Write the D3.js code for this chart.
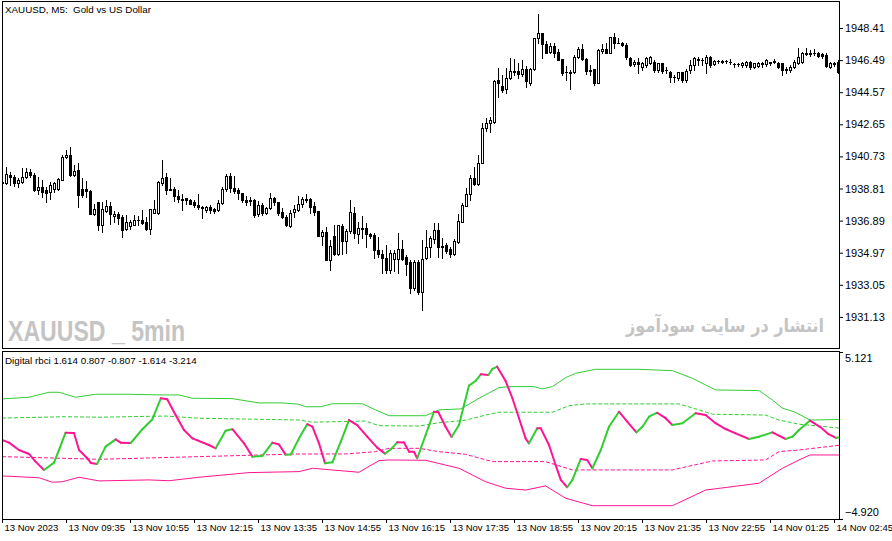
<!DOCTYPE html>
<html>
<head>
<meta charset="utf-8">
<script src="https://cdn.jsdelivr.net/npm/d3@7"></script>
<style>
    body { margin: 0; background: #fff; }
    svg { display: block; }
    text { font-family: "Liberation Sans", Arial, sans-serif; fill: #000; }
</style>
</head>
<body>
<div id="chart"></div>
<script>
// XAUUSD M5 bars: [open, high, low, close]
const ohlc = [
    [1939.15,1939.31,1939.01,1939.19],[1939.11,1940.11,1939.07,1939.65],[1939.61,1939.81,1939.01,1939.47],[1939.47,1939.61,1938.97,1939.11],
    [1939.15,1939.41,1938.91,1939.31],[1939.21,1940.01,1939.11,1939.51],[1939.51,1940.01,1939.41,1939.81],[1939.81,1939.95,1939.51,1939.61],
    [1939.61,1939.71,1938.67,1938.71],[1938.71,1939.51,1938.51,1938.91],[1938.91,1939.31,1938.31,1938.61],[1938.75,1938.91,1938.01,1938.55],
    [1938.61,1939.21,1938.21,1939.01],[1938.81,1939.21,1938.61,1939.11],[1938.81,1939.41,1938.75,1939.35],[1939.31,1940.81,1939.31,1940.71],
    [1940.67,1941.11,1940.61,1940.81],[1940.81,1941.31,1939.55,1939.61],[1939.61,1940.21,1939.55,1939.87],[1939.91,1940.31,1937.71,1938.41],
    [1938.81,1939.41,1938.31,1938.41],[1938.81,1939.27,1938.31,1938.67],[1938.67,1938.71,1937.27,1937.27],[1937.27,1937.91,1937.21,1937.61],
    [1938.01,1938.01,1936.35,1936.61],[1936.61,1938.01,1936.21,1937.61],[1937.45,1938.11,1937.41,1937.75],[1937.75,1938.01,1936.71,1937.27],
    [1937.15,1937.47,1936.81,1937.27],[1937.27,1937.41,1936.71,1937.07],[1937.11,1937.21,1935.91,1936.35],[1936.41,1937.21,1936.31,1936.81],
    [1936.59,1936.91,1936.41,1936.81],[1936.61,1937.21,1936.61,1936.95],[1936.91,1937.15,1936.61,1936.93],[1936.95,1937.51,1936.71,1936.75],
    [1936.81,1937.11,1936.35,1936.41],[1936.41,1937.61,1936.07,1937.61],[1937.35,1938.15,1937.35,1937.61],[1937.35,1939.27,1937.27,1939.21],
    [1939.11,1940.51,1939.01,1939.41],[1939.47,1939.71,1938.51,1938.75],[1938.81,1939.41,1938.75,1938.75],[1938.81,1938.91,1938.07,1938.35],
    [1938.35,1938.71,1938.01,1938.21],[1938.21,1938.51,1937.51,1938.15],[1938.27,1938.27,1937.91,1938.11],[1938.15,1938.21,1937.87,1937.91],
    [1938.01,1938.11,1937.71,1937.81],[1937.81,1938.51,1937.61,1937.71],[1937.71,1937.75,1937.07,1937.67],[1937.51,1937.75,1937.41,1937.71],
    [1937.72,1937.82,1937.36,1937.52],[1937.56,1937.62,1937.36,1937.48],[1937.52,1938.12,1937.48,1937.96],[1937.92,1938.88,1937.86,1938.76],
    [1938.76,1939.68,1938.68,1939.56],[1939.56,1939.72,1938.62,1938.82],[1938.82,1939.56,1938.56,1938.68],[1938.72,1938.82,1938.16,1938.52],
    [1938.52,1938.56,1938.02,1938.12],[1938.12,1938.36,1937.82,1938.02],[1938.08,1938.32,1937.82,1938.12],[1938.12,1938.16,1937.12,1937.22],
    [1937.26,1938.08,1937.18,1937.82],[1937.82,1937.92,1937.22,1937.32],[1937.32,1937.72,1937.28,1937.62],[1937.62,1938.52,1937.56,1938.22],
    [1938.22,1938.32,1937.82,1938.02],[1937.98,1938.02,1937.22,1937.36],[1937.42,1937.62,1937.02,1937.08],[1937.12,1937.22,1936.56,1936.62],
    [1936.58,1937.52,1936.52,1937.36],[1937.42,1937.82,1937.08,1937.56],[1937.52,1938.36,1937.48,1937.86],[1937.86,1938.32,1937.72,1938.16],
    [1938.12,1938.48,1938.02,1938.16],[1938.16,1938.22,1937.36,1937.72],[1937.76,1938.02,1937.22,1937.42],[1937.46,1937.46,1935.96,1935.96],
    [1935.98,1936.32,1935.42,1936.22],[1936.22,1936.52,1934.52,1934.52],[1934.52,1935.72,1933.96,1935.36],[1935.96,1936.62,1934.82,1934.92],
    [1934.92,1936.62,1934.82,1936.62],[1936.56,1936.68,1934.92,1935.68],[1935.68,1936.36,1934.96,1936.26],[1936.26,1938.12,1936.12,1937.42],
    [1937.32,1937.72,1935.82,1936.12],[1936.08,1936.82,1935.56,1936.42],[1936.42,1937.16,1935.82,1936.40],[1936.42,1936.72,1935.32,1936.08],
    [1936.08,1936.16,1935.82,1935.98],[1936.02,1936.12,1934.68,1935.16],[1935.16,1935.92,1934.72,1934.92],[1934.88,1935.12,1933.76,1934.68],
    [1934.68,1935.42,1933.76,1933.92],[1933.92,1935.12,1933.76,1934.98],[1934.62,1935.12,1933.88,1934.98],[1934.62,1936.12,1933.76,1935.22],
    [1935.22,1935.72,1934.56,1934.62],[1934.72,1934.82,1933.62,1934.32],[1934.42,1934.52,1932.56,1932.88],[1932.88,1934.52,1932.72,1934.42],
    [1934.42,1934.52,1932.52,1932.62],[1932.62,1935.72,1931.56,1934.58],[1934.64,1936.34,1934.58,1935.34],[1935.30,1935.98,1934.74,1935.84],
    [1935.78,1936.73,1935.54,1936.34],[1936.30,1936.73,1934.74,1935.34],[1935.38,1935.84,1934.64,1935.34],[1935.44,1935.54,1934.94,1935.10],
    [1935.18,1935.34,1934.74,1934.90],[1934.90,1935.78,1934.84,1935.64],[1935.60,1937.29,1935.54,1936.89],[1936.83,1937.93,1936.78,1937.83],
    [1937.77,1938.83,1937.77,1938.49],[1938.47,1939.63,1938.13,1939.43],[1939.43,1940.12,1939.03,1939.09],[1939.09,1940.82,1939.03,1940.36],
    [1940.36,1942.71,1940.32,1942.42],[1942.42,1943.01,1942.22,1942.71],[1942.71,1943.07,1942.16,1942.91],[1942.81,1945.27,1942.75,1945.21],
    [1945.27,1946.00,1944.31,1945.11],[1944.95,1945.60,1944.61,1944.71],[1944.75,1946.00,1944.55,1945.40],[1945.40,1946.60,1945.35,1945.86],
    [1945.80,1946.54,1945.60,1945.86],[1945.84,1946.30,1945.40,1945.66],[1945.66,1946.50,1945.54,1945.94],[1945.94,1946.14,1944.87,1945.21],
    [1945.15,1946.00,1945.00,1945.94],[1945.94,1947.80,1945.90,1947.80],[1947.80,1949.25,1947.54,1948.10],[1948.10,1948.10,1946.60,1947.44],
    [1947.46,1947.66,1946.90,1946.94],[1947.00,1947.50,1946.94,1947.34],[1947.34,1947.50,1946.70,1946.94],[1946.98,1947.14,1946.50,1946.50],
    [1946.54,1946.54,1945.60,1945.74],[1945.80,1946.14,1945.27,1945.76],[1945.70,1945.90,1944.75,1945.80],[1945.76,1946.80,1945.70,1946.66],
    [1946.66,1947.26,1946.60,1947.16],[1947.16,1947.46,1946.50,1946.54],[1946.54,1946.60,1945.66,1945.86],[1945.90,1946.20,1945.60,1945.86],
    [1945.94,1945.94,1945.00,1945.15],[1945.15,1947.14,1945.15,1947.10],[1947.06,1947.46,1946.90,1947.14],[1947.14,1947.50,1946.90,1946.94],
    [1946.94,1947.90,1946.90,1947.86],[1947.90,1948.10,1947.20,1947.50],[1947.54,1947.80,1947.50,1947.50],[1947.54,1947.58,1947.34,1947.38],
    [1947.40,1947.50,1946.54,1946.66],[1946.59,1946.65,1946.13,1946.19],[1946.25,1946.49,1946.13,1946.39],[1946.39,1946.59,1945.73,1946.25],
    [1946.09,1946.39,1945.89,1946.29],[1946.19,1946.65,1946.09,1946.59],[1946.29,1946.73,1946.25,1946.65],[1946.39,1946.49,1945.79,1945.89],
    [1945.89,1946.33,1945.79,1946.29],[1946.29,1946.33,1945.73,1945.85],[1945.89,1946.09,1945.69,1945.87],[1945.79,1945.85,1945.19,1945.45],
    [1945.45,1945.59,1945.19,1945.47],[1945.39,1945.79,1945.29,1945.75],[1945.75,1945.79,1945.19,1945.29],[1945.29,1945.93,1945.19,1945.85],
    [1945.89,1946.49,1945.69,1946.19],[1946.19,1946.69,1945.89,1946.59],[1946.53,1946.65,1946.19,1946.51],[1946.49,1946.59,1946.19,1946.51],
    [1946.29,1946.79,1945.73,1946.69],[1946.69,1946.73,1946.09,1946.19],[1946.25,1946.49,1946.19,1946.45],[1946.41,1946.49,1946.29,1946.43],
    [1946.41,1946.49,1946.33,1946.39],[1946.41,1946.49,1946.33,1946.42],[1946.39,1946.53,1946.25,1946.37],[1946.25,1946.33,1946.09,1946.23],
    [1946.25,1946.33,1946.13,1946.27],[1946.19,1946.39,1946.09,1946.33],[1946.19,1946.45,1946.09,1946.39],[1946.39,1946.45,1945.93,1946.05],
    [1946.09,1946.33,1945.99,1946.29],[1946.13,1946.39,1946.09,1946.33],[1946.29,1946.39,1946.09,1946.27],[1946.25,1946.53,1946.13,1946.49],
    [1946.33,1946.39,1946.19,1946.35],[1946.41,1946.53,1946.33,1946.39],[1946.33,1946.39,1945.99,1946.09],[1946.29,1946.33,1945.59,1945.89],
    [1945.93,1946.09,1945.69,1945.91],[1945.89,1946.19,1945.79,1946.09],[1946.09,1946.49,1945.99,1946.39],[1946.33,1947.19,1946.25,1946.69],
    [1946.39,1946.99,1946.29,1946.89],[1946.85,1947.19,1946.79,1946.93],[1946.85,1947.09,1946.73,1946.93],[1946.93,1947.13,1946.79,1946.91],
    [1946.93,1946.99,1946.65,1946.73],[1946.85,1946.93,1946.59,1946.73],[1946.79,1946.89,1946.09,1946.13],[1946.09,1946.39,1945.99,1946.33],
    [1946.29,1946.39,1946.13,1946.27],[1946.39,1946.49,1945.69,1945.79]
];

const priceTicks = [1948.41, 1946.49, 1944.57, 1942.65, 1940.73, 1938.81, 1936.89, 1934.97, 1933.05, 1931.13];

const timeTickBars = [0, 16, 32, 48, 64, 80, 96, 112, 128, 144, 160, 176, 192, 208];
const timeLabels = ["13 Nov 2023", "13 Nov 09:35", "13 Nov 10:55", "13 Nov 12:15", "13 Nov 13:35", "13 Nov 14:55",
    "13 Nov 16:15", "13 Nov 17:35", "13 Nov 18:55", "13 Nov 20:15", "13 Nov 21:35", "13 Nov 22:55",
    "14 Nov 01:25", "14 Nov 02:45"];

// Digital rbci subwindow, [bar, value]
const rbciMain = [
    [0,-0.17],[1.75,-0.33],[4.25,-0.77],[6.75,-1.01],[8.4,-1.47],[10.5,-1.97],[13,-1.53],[14.25,-0.77],[15.9,0.27],[18,0.25],
    [19.25,-0.77],[21.25,-1.25],[22.2,-1.55],[23.75,-1.61],[25.9,-0.57],[28.4,-0.13],[29.7,-0.33],[32.2,-0.35],[35.1,0.48],[37.6,1.08],
    [39.7,2.34],[41.3,2.28],[43.4,1.33],[45.5,0.43],[47.6,-0.07],[51.75,-0.47],[53.4,-0.67],[55.9,0.39],[57.6,0.48],[60.5,-0.37],
    [62.6,-1.17],[65.1,-1.13],[67.6,-0.33],[69.25,-0.44],[70.9,-1.05],[72.2,-1.04],[74.25,-0.07],[76.3,0.78],[77.6,0.63],[79.25,-0.37],
    [80.75,-1.57],[82.6,-1.51],[84.7,-0.27],[86.75,1.03],[88.8,0.73],[91.3,0.03],[93.8,-0.63],[95.75,-0.99],[97.2,-0.73],[98.8,-0.31],
    [100.5,-0.32],[101.75,-0.87],[103,-0.88],[103.8,-1.27],[105.9,0.13],[108,1.53],[109.1,1.50],[110.9,0.63],[112.4,0.01],[114.25,0.73],
    [115.5,1.94],[116.75,3.10],[118.4,3.38],[119.7,3.78],[121.6,3.74],[122.6,4.10],[123.8,4.24],[125.9,3.38],[127.6,2.34],[129.25,1.14],
    [130.9,-0.07],[131.75,-0.37],[133.8,0.54],[134.7,0.53],[136.75,-0.47],[138.4,-1.67],[139.7,-2.57],[141.3,-3.01],[142.6,-2.57],[144.7,-1.31],
    [146.3,-1.37],[147.6,-1.87],[149.7,-0.77],[151.75,0.63],[154.25,1.53],[156.3,0.93],[158.6,0.29],[160.1,0.63],[161.75,1.23],[163.8,1.47],
    [165.9,1.14],[167.6,0.73],[170.1,0.84],[173.4,1.44],[175.9,1.33],[178.4,0.84],[180.9,0.49],[183.4,0.23],[186.75,-0.11],[189.25,0.03],
    [192.6,0.29],[195.9,-0.11],[197.6,0.03],[199.25,0.43],[202,1.00],[204.5,0.62],[206.5,0.20],[208.5,-0.04],[209.25,-0.02]
];
const bandUpper = [
    [0,2.30],[6.75,2.40],[11.75,2.70],[14.25,2.70],[18.4,2.40],[23.4,2.58],[31.75,2.58],[39.25,2.54],[44.25,2.54],[47.5,2.34],
    [57.5,2.32],[64.25,2.06],[70,2.06],[74.25,1.98],[75.9,1.83],[79.7,1.83],[82.6,2.01],[90.1,2.01],[93.4,1.64],[96.75,1.29],
    [105.9,1.29],[109.25,1.64],[114.7,1.70],[119.25,2.34],[124.25,2.98],[126.75,3.04],[133,3.04],[135.1,2.90],[137.6,3.04],[140.9,3.58],
    [143.4,3.84],[148.4,4.08],[159.25,4.08],[167.6,4.00],[172.6,3.54],[178.4,2.84],[189.25,2.80],[192.6,2.24],[195.1,1.74],[198,1.53],
    [199.25,1.38],[202,1.03],[209.25,1.06]
];
const levelUpper = [
    [0,1.15],[15.9,1.23],[24.25,1.20],[40.9,1.27],[49.25,1.14],[74.25,1.03],[77.5,0.90],[90.9,0.97],[94.25,0.69],[104.25,0.67],
    [109.25,0.87],[115.9,1.02],[120.9,1.33],[124.25,1.50],[137.6,1.50],[141.75,1.89],[145.9,2.00],[169.25,2.00],[174.25,1.64],[177.6,1.38],
    [190.9,1.33],[194.25,1.03],[199.25,0.78],[209.25,0.55]
];
const levelLower = [
    [0,-1.17],[24.25,-1.33],[49.25,-1.17],[74.25,-1.01],[86,-1.01],[93.4,-0.87],[96.75,-0.67],[104.25,-0.67],[109.25,-0.87],[115.9,-1.03],
    [122.6,-1.47],[135.9,-1.47],[142.6,-1.97],[167.6,-1.97],[177.6,-1.43],[190.9,-1.37],[194.25,-0.87],[199.25,-0.77],[209.25,-0.49]
];
const bandLower = [
    [0,-2.33],[9.25,-2.44],[12.6,-2.71],[15.1,-2.68],[19.25,-2.41],[24.25,-2.63],[36.75,-2.57],[41.75,-2.62],[49.25,-2.41],[61.75,-2.13],
    [74.25,-2.07],[77.6,-1.87],[89.25,-2.11],[94.25,-1.41],[96.75,-1.37],[105.9,-1.39],[114.25,-1.87],[120.9,-2.68],[125.9,-3.07],[130.9,-3.18],
    [135.9,-2.93],[140.9,-3.67],[147.6,-4.12],[167.6,-4.12],[175.9,-3.18],[189.25,-2.77],[195.1,-1.87],[199.25,-1.37],[202,-1.07],[209.25,-1.07]
];

const indMax = 5.121;
const indMin = -4.920;

document.addEventListener("DOMContentLoaded", function(){
    const width = 892, height = 541;
    const left = 2.5, right = 839.5;
    const mainTop = 1.5, mainBottom = 348.5;
    const indTop = 351.5, indBottom = 519.5;
    const green = "#32CD32", pink = "#FF1493";

    const svg = d3.select("#chart").append("svg")
        .attr("width", width)
        .attr("height", height);

    const defs = svg.append("defs");
    defs.append("clipPath").attr("id", "mainClip").append("rect")
        .attr("x", left).attr("y", mainTop).attr("width", right - left).attr("height", mainBottom - mainTop);
    defs.append("clipPath").attr("id", "indClip").append("rect")
        .attr("x", left).attr("y", indTop).attr("width", right - left).attr("height", indBottom - indTop);

    //scales
    const x = d3.scaleLinear().domain([0, ohlc.length - 1]).range([2, 838]);
    const y = d3.scaleLinear().domain([1929.27, 1949.965]).range([348, 2]);
    const yInd = d3.scaleLinear().domain([indMin, indMax]).range([519, 352]);

    //watermarks
    svg.append("text")
        .attr("x", 8).attr("y", 341)
        .attr("textLength", 177).attr("lengthAdjust", "spacingAndGlyphs")
        .style("font-size", "29px").style("font-weight", "bold")
        .style("fill", "#c4c4c4")
        .text("XAUUSD _ 5min");

    // persian label: squeeze it to the width seen in the picture
    const faLabel = svg.append("text")
        .attr("x", 0).attr("y", 0)
        .attr("text-anchor", "end")
        .style("font-family", "'DejaVu Sans', sans-serif")
        .style("font-size", "19px").style("font-weight", "bold")
        .style("fill", "#c4c4c4")
        .text("انتشار در سایت سودآموز");
    const faWidth = faLabel.node().getComputedTextLength() || 198;
    faLabel.attr("transform", `translate(824, 332) scale(${198 / faWidth}, 1)`);

    //candles
    const candleG = svg.append("g")
        .attr("clip-path", "url(#mainClip)")
        .attr("shape-rendering", "crispEdges");

    ohlc.forEach(function(bar, i){
        const [o, h, l, c] = bar;
        const cx = Math.round(x(i)) + 0.5;
        const yo = Math.round(y(o)), yc = Math.round(y(c));
        const yh = Math.round(y(h)), yl = Math.round(y(l));

        candleG.append("line")
            .attr("x1", cx).attr("x2", cx)
            .attr("y1", yh).attr("y2", yl + 1)
            .attr("stroke", "#000");

        if(yo === yc){
            candleG.append("line")
                .attr("x1", cx - 1.5).attr("x2", cx + 1.5)
                .attr("y1", yo + 0.5).attr("y2", yo + 0.5)
                .attr("stroke", "#000");
        } else if(c > o){
            candleG.append("rect")
                .attr("x", cx - 1).attr("width", 2)
                .attr("y", yc + 0.5).attr("height", yo - yc)
                .attr("fill", "#fff").attr("stroke", "#000");
        } else{
            candleG.append("rect")
                .attr("x", cx - 1.5).attr("width", 3)
                .attr("y", yo).attr("height", yc - yo + 1)
                .attr("fill", "#000");
        }
    });

    //indicator lines
    const indG = svg.append("g").attr("clip-path", "url(#indClip)");
    const line = d3.line().x(d => x(d[0])).y(d => yInd(d[1]));

    function drawBand(data, color, dashed){
        indG.append("path")
            .datum(data)
            .attr("d", line)
            .attr("fill", "none")
            .attr("stroke", color)
            .attr("stroke-width", 1)
            .attr("stroke-dasharray", dashed ? "4,2" : null);
    }
    drawBand(bandUpper, green, false);
    drawBand(levelUpper, green, true);
    drawBand(levelLower, pink, true);
    drawBand(bandLower, pink, false);

    // main line: green while rising, pink while falling
    for(let k = 1; k < rbciMain.length; k++){
        const a = rbciMain[k - 1], b = rbciMain[k];
        indG.append("path")
            .datum([a, b])
            .attr("d", line)
            .attr("fill", "none")
            .attr("stroke", b[1] >= a[1] ? green : pink)
            .attr("stroke-width", 2)
            .attr("stroke-linecap", "round");
    }

    //frames
    const frameG = svg.append("g").attr("shape-rendering", "crispEdges");
    frameG.append("rect")
        .attr("x", left).attr("y", mainTop)
        .attr("width", right - left).attr("height", mainBottom - mainTop)
        .attr("fill", "none").attr("stroke", "#000");
    frameG.append("rect")
        .attr("x", left).attr("y", indTop)
        .attr("width", right - left).attr("height", indBottom - indTop)
        .attr("fill", "none").attr("stroke", "#000");

    //price axis
    const priceAxis = d3.axisRight(y)
        .tickValues(priceTicks)
        .tickSize(4)
        .tickPadding(2)
        .tickFormat(d3.format(".2f"));
    const pa = svg.append("g")
        .attr("transform", `translate(${right - 0.5}, 0)`)
        .call(priceAxis);
    pa.select(".domain").remove();
    pa.selectAll("text").style("font-size", "11px").style("font-family", "'Liberation Sans', Arial, sans-serif");

    //indicator scale
    const indAxis = d3.axisRight(yInd)
        .tickValues([indMax, indMin])
        .tickSize(4)
        .tickPadding(2)
        .tickFormat(d3.format(".3f"));
    const ia = svg.append("g")
        .attr("transform", `translate(${right - 0.5}, 0)`)
        .call(indAxis);
    ia.select(".domain").remove();
    ia.selectAll("text")
        .style("font-size", "11px").style("font-family", "'Liberation Sans', Arial, sans-serif")
        .attr("dy", d => d === indMax ? "0.85em" : "-0.3em");

    //time axis
    const timeAxis = d3.axisBottom(x)
        .tickValues(timeTickBars)
        .tickSize(4)
        .tickPadding(1)
        .tickFormat((d, i) => timeLabels[i]);
    const ta = svg.append("g")
        .attr("transform", `translate(0, ${indBottom - 0.5})`)
        .call(timeAxis);
    ta.select(".domain").remove();
    ta.selectAll("text")
        .attr("text-anchor", "start")
        .attr("dx", 2)
        .style("font-size", "9.5px").style("font-family", "'Liberation Sans', Arial, sans-serif");

    //titles
    svg.append("text")
        .attr("x", 5).attr("y", 13)
        .style("font-size", "9.8px")
        .style("white-space", "pre")
        .text("XAUUSD, M5:  Gold vs US Dollar");

    svg.append("text")
        .attr("x", 5).attr("y", 364)
        .style("font-size", "9.8px")
        .text("Digital rbci 1.614 0.807 -0.807 -1.614 -3.214");
});
</script>
</body>
</html>
